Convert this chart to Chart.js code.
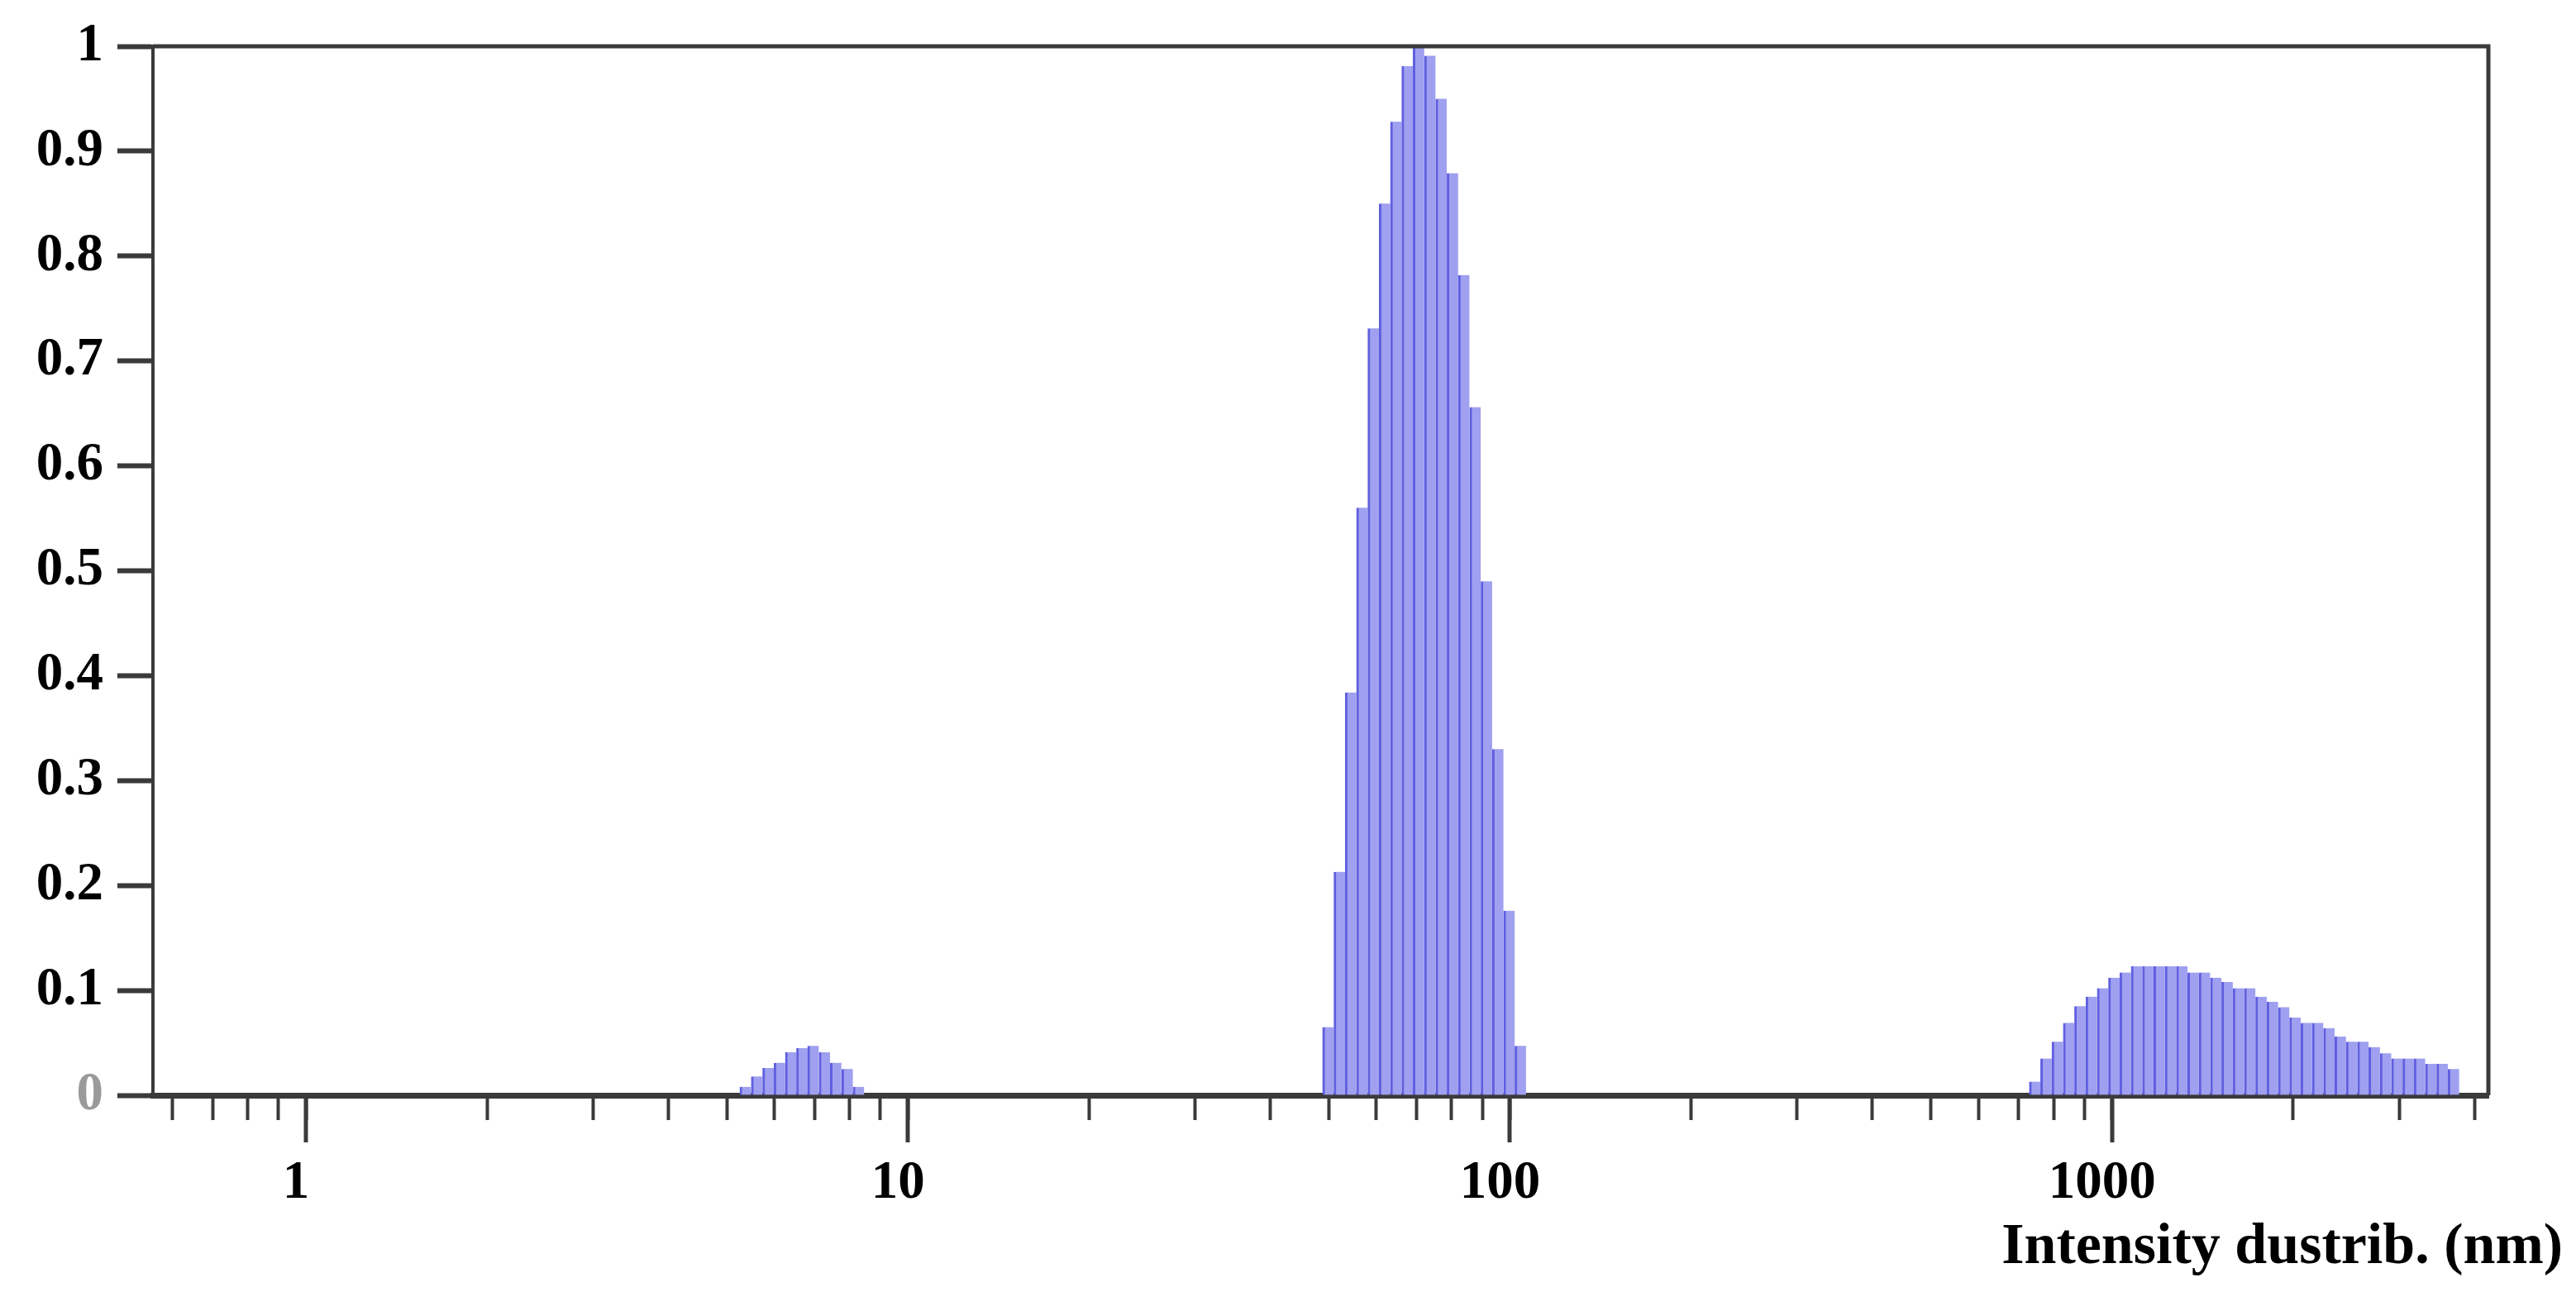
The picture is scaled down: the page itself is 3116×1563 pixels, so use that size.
<!DOCTYPE html>
<html>
<head>
<meta charset="utf-8">
<title>Intensity distribution</title>
<script src="https://cdn.jsdelivr.net/npm/chart.js@4.4.1/dist/chart.umd.min.js"></script>
<style>
    html, body { margin: 0; padding: 0; background: #ffffff; }
    #wrap { width: 3116px; height: 1563px; position: relative; }
</style>
</head>
<body>
<div id="wrap"><canvas id="dlsChart"></canvas></div>
<script>
// Tamaños de partícula (nm) y la intensidad relativa de cada barra
const smallSizes = [5.37, 5.61, 5.86, 6.12, 6.39, 6.67, 6.96, 7.27, 7.59, 7.93, 8.28];
const smallValues = [0.008, 0.018, 0.026, 0.031, 0.041, 0.045, 0.047, 0.041, 0.031, 0.025, 0.008];

const mainSizes = [49.89, 52.10, 54.40, 56.81, 59.32, 61.94, 64.68, 67.54, 70.53, 73.65,
    76.91, 80.31, 83.86, 87.57, 91.45, 95.50, 99.72, 104.1];
const mainValues = [0.065, 0.213, 0.384, 0.560, 0.731, 0.850, 0.928, 0.981, 1.0, 0.991,
    0.950, 0.879, 0.782, 0.656, 0.490, 0.330, 0.176, 0.047];

const largeSizes = [744.7, 777.6, 812.0, 847.9, 885.4, 924.6, 965.5, 1008.2, 1052.8, 1099.4,
    1148.0, 1198.8, 1251.8, 1307.2, 1365.0, 1425.4, 1488.4, 1554.3, 1623.1, 1694.9,
    1769.9, 1848.2, 1929.9, 2015.3, 2104.5, 2197.6, 2294.8, 2396.3, 2502.3, 2613.0,
    2728.6, 2849.3, 2975.4, 3107.0, 3244.4, 3387.9, 3537.8, 3694.3];
const largeValues = [0.013, 0.035, 0.051, 0.069, 0.085, 0.094, 0.102, 0.112, 0.117, 0.123,
    0.123, 0.123, 0.123, 0.123, 0.117, 0.117, 0.112, 0.108, 0.102, 0.102,
    0.094, 0.089, 0.084, 0.074, 0.069, 0.069, 0.064, 0.056, 0.051, 0.051,
    0.046, 0.040, 0.035, 0.035, 0.035, 0.030, 0.030, 0.025];

// Marcas del eje X (décadas con etiqueta, el resto sólo marca)
const xMajorTicks = [1, 10, 100, 1000];
const xMinorTicks = [0.6, 0.7, 0.8, 0.9, 2, 3, 4, 5, 6, 7, 8, 9,
    20, 30, 40, 50, 60, 70, 80, 90, 200, 300, 400, 500, 600, 700, 800, 900,
    2000, 3000, 4000];
const xTitle = 'Intensity dustrib. (nm)';

const toPoints = (sizes, values) => sizes.map((s, i) => ({ x: s, y: values[i] }));
const allPoints = [
    ...toPoints(smallSizes, smallValues),
    ...toPoints(mainSizes, mainValues),
    ...toPoints(largeSizes, largeValues)
];

const serif = '"Liberation Serif", "Times New Roman", serif';
const axisColor = '#3a3a3a';

// Marco superior/derecho, marcas largas de décadas y título del eje
const framePlugin = {
    id: 'frame',
    afterDraw(chart) {
        const { ctx, chartArea } = chart;
        const xScale = chart.scales.x;
        ctx.save();
        ctx.strokeStyle = axisColor;
        ctx.lineWidth = 5;
        ctx.beginPath();
        ctx.moveTo(chartArea.left, chartArea.top);
        ctx.lineTo(chartArea.right, chartArea.top);
        ctx.lineTo(chartArea.right, chartArea.bottom);
        ctx.stroke();

        xMajorTicks.forEach(v => {
            const px = Math.round(xScale.getPixelForValue(v));
            ctx.beginPath();
            ctx.moveTo(px, chartArea.bottom);
            ctx.lineTo(px, chartArea.bottom + 57);
            ctx.stroke();
        });

        ctx.fillStyle = '#000';
        ctx.font = 'bold 70px ' + serif;
        ctx.textAlign = 'right';
        ctx.textBaseline = 'alphabetic';
        ctx.fillText(xTitle, chartArea.right + 90, chartArea.bottom + 203);
        ctx.restore();
    }
};

new Chart(document.getElementById('dlsChart').getContext('2d'), {
    type: 'bar',
    data: {
        datasets: [{
            data: allPoints,
            backgroundColor: '#a0a0f0',
            borderColor: '#5f5fe0',
            borderWidth: { left: 3, right: 0, top: 0, bottom: 0 },
            borderSkipped: false,
            barPercentage: 1.0,
            categoryPercentage: 1.0
        }]
    },
    options: {
        responsive: true,
        maintainAspectRatio: false,
        animation: false,
        layout: {
            padding: { top: 48, right: 106, left: 0, bottom: 0 }
        },
        plugins: {
            legend: { display: false },
            tooltip: { enabled: false }
        },
        scales: {
            x: {
                type: 'logarithmic',
                min: 0.557,
                max: 4220,
                offset: false,
                afterBuildTicks: (scale) => {
                    scale.ticks = [...xMinorTicks, ...xMajorTicks]
                        .sort((a, b) => a - b)
                        .map(v => ({ value: v }));
                },
                afterFit: (scale) => { scale.height = 238; },
                grid: {
                    offset: false,
                    drawOnChartArea: false,
                    drawTicks: true,
                    tickLength: 30,
                    tickWidth: 4,
                    tickColor: axisColor
                },
                border: { display: true, color: axisColor, width: 7 },
                ticks: {
                    autoSkip: false,
                    maxRotation: 0,
                    padding: 38,
                    labelOffset: -12,
                    color: '#000',
                    font: { family: serif, size: 65, weight: 'bold' },
                    callback: (value) => xMajorTicks.includes(value) ? String(value) : ''
                }
            },
            y: {
                min: 0,
                max: 1,
                afterFit: (scale) => { scale.width = 185; },
                grid: {
                    drawOnChartArea: false,
                    drawTicks: true,
                    tickLength: 43,
                    tickWidth: 6,
                    tickColor: axisColor
                },
                border: { display: true, color: axisColor, width: 4 },
                ticks: {
                    stepSize: 0.1,
                    padding: 17,
                    color: (ctx) => (ctx.tick && ctx.tick.value === 0) ? '#9a9a9a' : '#000',
                    font: { family: serif, size: 65, weight: 'bold' },
                    callback: (value) => String(Number(value.toFixed(1)))
                }
            }
        }
    },
    plugins: [framePlugin]
});
</script>
</body>
</html>
